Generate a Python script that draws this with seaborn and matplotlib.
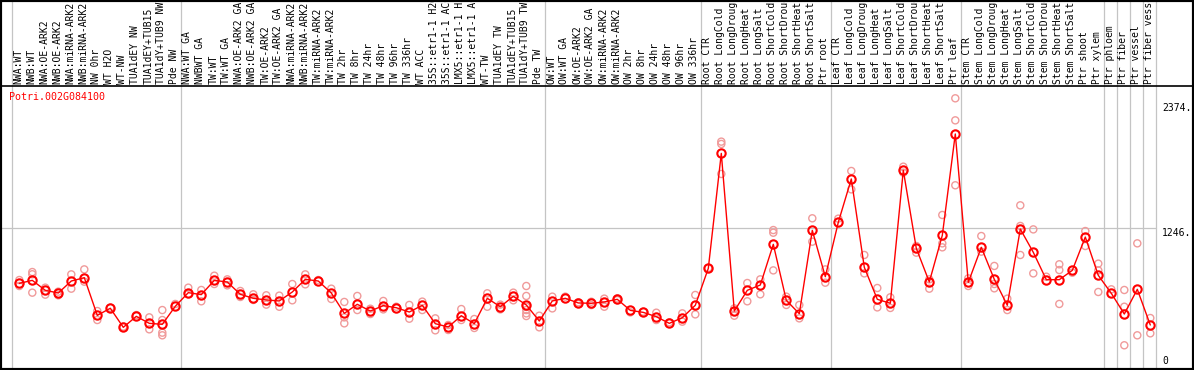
import matplotlib
matplotlib.use("Agg")
import matplotlib.pyplot as plt
import seaborn as sns
import pandas as pd
import numpy as np

gene_name = "Potri.002G084100"

labels = [
    "NWA:WT", "NWB:WT", "NWA:OE-ARK2", "NWB:OE-ARK2", "NWA:miRNA-ARK2", "NWB:miRNA-ARK2",
    "NW 0hr", "WT H2O", "WT-NW", "TUA1dEY NW", "TUA1dEY+TUB15", "TUA1dY+TUB9 NW", "Pde NW",
    "NWA:WT GA", "NWBWT GA", "TW:WT", "TW:WT GA", "NWA:OE-ARK2 GA", "NWB:OE-ARK2 GA",
    "TW:OE-ARK2", "TW:OE-ARK2 GA", "NWA:miRNA-ARK2", "NWB:miRNA-ARK2", "TW:miRNA-ARK2",
    "TW:miRNA-ARK2", "TW 2hr", "TW 8hr", "TW 24hr", "TW 48hr", "TW 96hr", "TW 336hr",
    "WT ACC", "35S::etr1-1 H2O", "35S::etr1-1 ACC", "LMX5::etr1-1 H2O", "LMX5::etr1-1 ACC",
    "WT-TW", "TUA1dEY TW", "TUA1dEY+TUB15", "TUA1dY+TUB9 TW", "Pde TW",
    "OW:WT", "OW:WT GA", "OW:OE-ARK2", "OW:OE-ARK2 GA", "OW:miRNA-ARK2", "OW:miRNA-ARK2",
    "OW 2hr", "OW 8hr", "OW 24hr", "OW 48hr", "OW 96hr", "OW 336hr",
    "Root CTR", "Root LongCold", "Root LongDrought", "Root LongHeat", "Root LongSalt",
    "Root ShortCold", "Root ShortDrought", "Root ShortHeat", "Root ShortSalt", "Ptr root",
    "Leaf CTR", "Leaf LongCold", "Leaf LongDrought", "Leaf LongHeat", "Leaf LongSalt",
    "Leaf ShortCold", "Leaf ShortDrought", "Leaf ShortHeat", "Leaf ShortSalt", "Ptr leaf",
    "Stem CTR", "Stem LongCold", "Stem LongDrought", "Stem LongHeat", "Stem LongSalt",
    "Stem ShortCold", "Stem ShortDrought", "Stem ShortHeat", "Stem ShortSalt", "Ptr shoot",
    "Ptr xylem", "Ptr phloem", "Ptr fiber", "Ptr vessel", "Ptr fiber vessel",
]

means = [
    746, 773, 683, 659, 767, 797, 457, 521, 349, 448, 385, 376, 539,
    662, 644, 773, 758, 647, 611, 596, 587, 668, 782, 767, 659, 475, 557, 496, 545,
    526, 487, 548, 382, 352, 454, 382, 611, 535, 629, 551, 406,
    587, 611, 569, 566, 578, 602, 502, 484, 445, 385, 436, 548,
    881, 1919, 496, 683, 731, 1098, 593, 472, 1224, 806,
    1297, 1688, 891, 602, 566, 1766, 1062, 758, 1179, 2094,
    755, 1071, 782, 548, 1236, 1026, 779, 779, 863, 1164,
    818, 656, 469, 692, 370,
]

replicates = [
    [776, 722], [848, 828, 662], [707, 644], [671, 638], [827, 698], [872, 761],
    [496, 415], [526], [355], [460], [439, 331], [505, 415, 301, 277], [560],
    [707, 650], [686, 584], [815, 740], [782, 728], [677, 623], [647, 596],
    [638, 554], [635, 535], [740, 593], [827, 737], [776], [698, 605],
    [578, 439, 385], [632, 505], [517, 469], [587, 511], [535], [551, 427],
    [581, 505], [430, 322], [370, 325], [514, 415], [424, 343], [656, 535],
    [554, 511], [662, 593], [722, 632, 535, 505, 475, 451], [454, 349],
    [626, 520], [626], [575, 560], [580, 550], [608, 535], [610, 595],
    [484], [490], [481, 415], [394], [475, 400], [641, 466],
    [885], [2025, 2004, 1733], [520, 454], [749, 584], [782, 647],
    [1227, 1203, 863], [626, 551], [551, 430], [1333, 1122], [872, 752],
    [1330], [1760, 1594], [1002, 836], [704, 529], [620, 524],
    [1799, 1745], [1083, 1023], [782, 698], [1363, 1107, 1071], [2416, 2217, 1631],
    [791, 722], [1173, 1032], [903, 740, 701], [608, 505], [1450, 1264, 1002],
    [1233, 836], [806], [918, 866, 560], [842], [1218, 1083],
    [924, 863, 668], [692], [686, 535, 187], [1107, 277], [433, 295],
]

separators_after = [-1, 12, 40, 52, 62, 72, 83, 84, 85, 86, 87]
ytick_values = [0, 1246, 2374]
ytick_labels = ["0", "1246.", "2374."]

# ---- data frames ----
pos = np.arange(len(labels))
mean_df = pd.DataFrame({"pos": pos, "value": means})
rep_rows = [(i, v) for i, vals in enumerate(replicates) for v in vals]
rep_df = pd.DataFrame(rep_rows, columns=["pos", "value"])

sns.set_style("white")
plt.rcParams["font.family"] = ["DejaVu Sans Mono", "DejaVu Sans"]

W, H = 1194, 370
fig = plt.figure(figsize=(W / 100, H / 100), dpi=100)
ax = fig.add_axes([0, 0, 1, 1])

# pixel <-> data mapping
x0_px, step_px = 19.3, 13.0
y0_px, scale = 366.0, 0.1108
def px_to_x(p):
    return (p - x0_px) / step_px
def py_to_y(r):
    return (y0_px - r) / scale

ax.set_xlim(px_to_x(0), px_to_x(W))
ax.set_ylim(py_to_y(H), py_to_y(0))

# separators
for s in separators_after:
    ax.axvline(s + 0.4, color="#c4c4c4", lw=0.9, zorder=1)
# grid line
ax.plot([px_to_x(0), 87.4], [1246, 1246], color="#c4c4c4", lw=0.9, zorder=1)
# header line
ax.axhline(py_to_y(85.5), color="black", lw=1.2, zorder=2)

# replicates
sns.scatterplot(data=rep_df, x="pos", y="value", ax=ax, marker="o", s=26,
                facecolor="none", edgecolor="#f09a9a", linewidth=1.0, zorder=3,
                legend=False)
# means
sns.lineplot(data=mean_df, x="pos", y="value", ax=ax, color="red", lw=1.0,
             marker="o", markersize=6, markerfacecolor="none",
             markeredgecolor="red", markeredgewidth=1.5, zorder=4, legend=False)

# header labels
yb = py_to_y(83.5)
for i, lab in enumerate(labels):
    ax.text(i - 0.08, yb, lab, rotation=90, ha="center", va="bottom",
            fontsize=7, color="black", clip_on=True, zorder=5)

# title
ax.text(px_to_x(9), py_to_y(96.7), gene_name, color="red", fontsize=7.2,
        ha="left", va="center", zorder=5)

# right value labels
ax.set_yticks(ytick_values)
ax.set_yticklabels(ytick_labels)
ax.yaxis.tick_right()
ax.tick_params(axis="y", length=0, pad=-23, labelsize=7, labelcolor="black")
tl = ax.get_yticklabels()
tl[0].set_va("bottom")
tl[1].set_va("top")
tl[2].set_va("top")
ax.set_xticks([])
ax.set_xlabel("")
ax.set_ylabel("")

for sp in ax.spines.values():
    sp.set_visible(True)
    sp.set_color("black")
    sp.set_linewidth(3)

fig.savefig("out.png", dpi=100)
